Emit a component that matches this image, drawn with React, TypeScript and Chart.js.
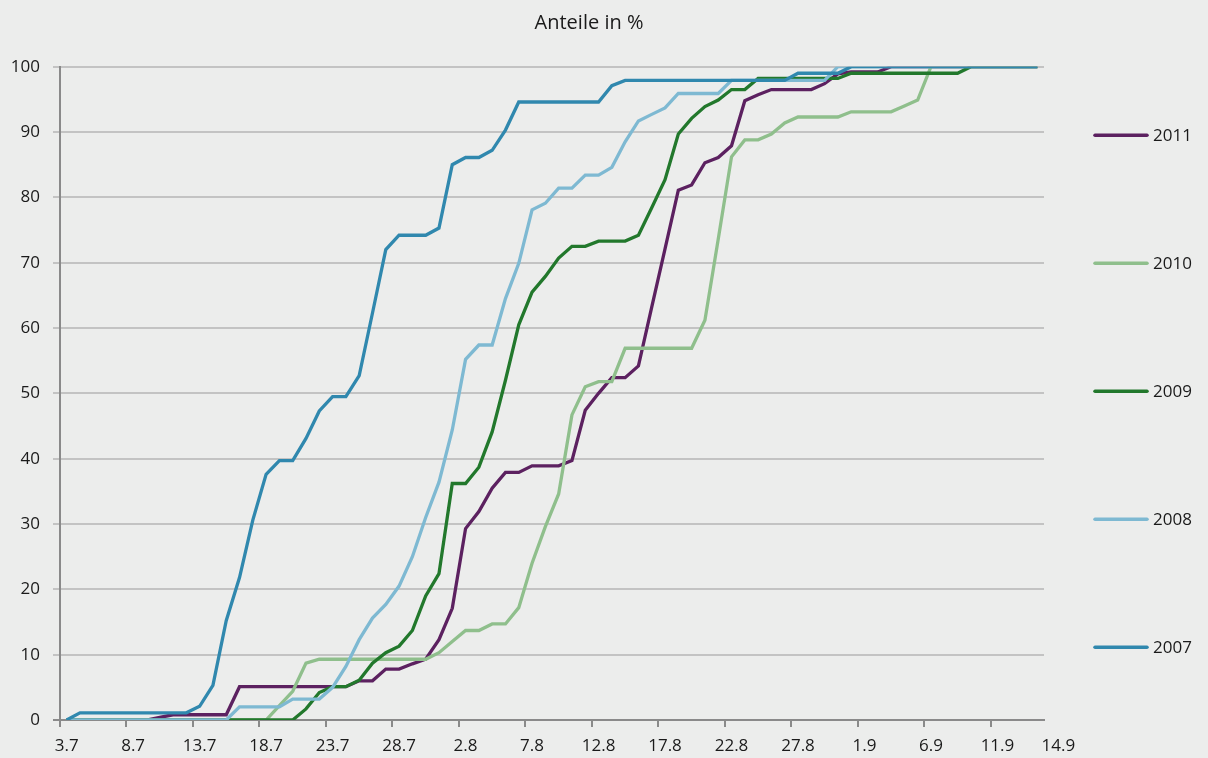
import React, { useEffect, useRef } from 'react';
import { Chart, registerables } from 'chart.js';

Chart.register(...registerables);

const BG = '#ecedec';
const TEXT = '#1a1a1a';
const AXIS = '#8a8a8a';
const GRID = '#c3c3c3';
const FONT = '"Open Sans", "Noto Sans", sans-serif';

const title = 'Anteile in %';

// one category per day, 3.7. to 14.9.
const categories: string[] = [
  '3.7', '4.7', '5.7', '6.7', '7.7', '8.7', '9.7', '10.7', '11.7', '12.7',
  '13.7', '14.7', '15.7', '16.7', '17.7', '18.7', '19.7', '20.7', '21.7', '22.7',
  '23.7', '24.7', '25.7', '26.7', '27.7', '28.7', '29.7', '30.7', '31.7', '1.8',
  '2.8', '3.8', '4.8', '5.8', '6.8', '7.8', '8.8', '9.8', '10.8', '11.8',
  '12.8', '13.8', '14.8', '15.8', '16.8', '17.8', '18.8', '19.8', '20.8', '21.8',
  '22.8', '23.8', '24.8', '25.8', '26.8', '27.8', '28.8', '29.8', '30.8', '31.8',
  '1.9', '2.9', '3.9', '4.9', '5.9', '6.9', '7.9', '8.9', '9.9', '10.9',
  '11.9', '12.9', '13.9', '14.9',
];

const tickLabels: string[] = [
  '3.7', '8.7', '13.7', '18.7', '23.7', '28.7', '2.8', '7.8',
  '12.8', '17.8', '22.8', '27.8', '1.9', '6.9', '11.9', '14.9',
];

const yTicks: number[] = [0, 10, 20, 30, 40, 50, 60, 70, 80, 90, 100];

const s2007: number[] = [
  0, 1.1, 1.1, 1.1, 1.1, 1.1, 1.1, 1.1, 1.1, 1.1,
  2.1, 5.3, 15.2, 21.8, 30.6, 37.6, 39.7, 39.7, 43.1, 47.3,
  49.5, 49.5, 52.7, 62.3, 72.0, 74.2, 74.2, 74.2, 75.3, 85.0,
  86.1, 86.1, 87.2, 90.3, 94.6, 94.6, 94.6, 94.6, 94.6, 94.6,
  94.6, 97.1, 97.9, 97.9, 97.9, 97.9, 97.9, 97.9, 97.9, 97.9,
  97.9, 97.9, 97.9, 97.9, 97.9, 99.0, 99.0, 99.0, 99.0, 100,
  100, 100, 100, 100, 100, 100, 100, 100, 100, 100,
  100, 100, 100, 100,
];

const s2008: number[] = [
  0, 0, 0, 0, 0, 0, 0, 0, 0, 0,
  0, 0, 0, 2.0, 2.0, 2.0, 2.0, 3.2, 3.2, 3.2,
  5.0, 8.2, 12.3, 15.6, 17.7, 20.5, 25.0, 31.0, 36.4, 44.4,
  55.2, 57.4, 57.4, 64.5, 69.9, 78.1, 79.1, 81.4, 81.4, 83.4,
  83.4, 84.6, 88.5, 91.7, 92.7, 93.7, 95.9, 95.9, 95.9, 95.9,
  97.9, 97.9, 97.9, 97.9, 97.9, 97.9, 97.9, 97.9, 100, 100,
  100, 100, 100, 100, 100, 100, 100, 100, 100, 100,
  100, 100, 100, 100,
];

const s2009: number[] = [
  0, 0, 0, 0, 0, 0, 0, 0, 0, 0,
  0, 0, 0, 0, 0, 0, 0, 0, 1.7, 4.2,
  5.1, 5.1, 6.1, 8.7, 10.3, 11.3, 13.7, 19.0, 22.4, 36.2,
  36.2, 38.7, 44.1, 52.0, 60.5, 65.5, 67.9, 70.7, 72.5, 72.5,
  73.3, 73.3, 73.3, 74.2, 78.4, 82.7, 89.7, 92.1, 93.9, 94.9,
  96.5, 96.5, 98.2, 98.2, 98.2, 98.2, 98.2, 98.2, 98.2, 99.0,
  99.0, 99.0, 99.0, 99.0, 99.0, 99.0, 99.0, 99.0, 100, 100,
  100, 100, 100, 100,
];

const s2010: number[] = [
  0, 0, 0, 0, 0, 0, 0, 0, 0, 0,
  0, 0, 0, 0, 0, 0, 2.2, 4.4, 8.7, 9.3,
  9.3, 9.3, 9.3, 9.3, 9.3, 9.3, 9.3, 9.3, 10.3, 12.0,
  13.7, 13.7, 14.7, 14.7, 17.2, 24.0, 29.6, 34.6, 46.7, 51.0,
  51.8, 51.8, 56.9, 56.9, 56.9, 56.9, 56.9, 56.9, 61.2, 73.6,
  86.2, 88.8, 88.8, 89.7, 91.4, 92.3, 92.3, 92.3, 92.3, 93.1,
  93.1, 93.1, 93.1, 94.0, 94.9, 100, 100, 100, 100, 100,
  100, 100, 100, 100,
];

const s2011: number[] = [
  0, 0, 0, 0, 0, 0, 0, 0.4, 0.8, 0.8,
  0.8, 0.8, 0.8, 5.1, 5.1, 5.1, 5.1, 5.1, 5.1, 5.1,
  5.1, 5.1, 6.0, 6.0, 7.8, 7.8, 8.6, 9.3, 12.3, 17.1,
  29.3, 31.9, 35.5, 37.9, 37.9, 38.9, 38.9, 38.9, 39.7, 47.4,
  50.0, 52.4, 52.4, 54.2, 63.2, 72.1, 81.1, 81.9, 85.3, 86.1,
  87.9, 94.8, 95.7, 96.5, 96.5, 96.5, 96.5, 97.4, 98.9, 99.2,
  99.2, 99.2, 100, 100, 100, 100, 100, 100, 100, 100,
  100, 100, 100, 100,
];

const seriesNames: string[] = ['2007', '2008', '2009', '2010', '2011'];
const seriesColors: string[] = ['#3088ae', '#7eb9d2', '#22782c', '#8fbf8c', '#5c2160'];
const seriesData: number[][] = [s2007, s2008, s2009, s2010, s2011];
// legend order from top to bottom
const legendOrder: string[] = ['2011', '2010', '2009', '2008', '2007'];

export default function App() {
  const ref = useRef<HTMLCanvasElement | null>(null);

  useEffect(() => {
    document.body.style.margin = '0';
    const canvas = ref.current;
    if (!canvas) return;

    const lastIdx = categories.length - 1;

    const sidePlugin = {
      id: 'sideLegend',
      beforeDraw(chart: any) {
        const c = chart.ctx;
        c.save();
        c.fillStyle = BG;
        c.fillRect(0, 0, chart.width, chart.height);
        c.restore();
      },
      afterDraw(chart: any) {
        const { ctx, chartArea } = chart;
        const mid = (chartArea.top + chartArea.bottom) / 2 - 2;
        const x0 = chartArea.right + 51;
        ctx.save();
        legendOrder.forEach((name, k) => {
          const di = seriesNames.indexOf(name);
          const y = mid + (k - 2) * 128;
          ctx.strokeStyle = seriesColors[di];
          ctx.lineWidth = 3.5;
          ctx.lineCap = 'round';
          ctx.beginPath();
          ctx.moveTo(x0, y);
          ctx.lineTo(x0 + 52, y);
          ctx.stroke();
          ctx.fillStyle = TEXT;
          ctx.font = `17px ${FONT}`;
          ctx.textAlign = 'left';
          ctx.textBaseline = 'middle';
          ctx.fillText(name, x0 + 58, y + 1);
        });
        // last category label, set off to the right as in the original
        const xs = chart.scales.x;
        ctx.fillStyle = TEXT;
        ctx.font = `17px ${FONT}`;
        ctx.textAlign = 'center';
        ctx.textBaseline = 'middle';
        ctx.fillText(tickLabels[tickLabels.length - 1], xs.getPixelForValue(lastIdx) + 21, xs.top + 7 + 9 + 10.2);
        ctx.restore();
      },
    };

    const chart = new Chart(canvas, {
      type: 'line',
      data: {
        labels: categories,
        datasets: seriesNames.map((n, i) => ({
          label: n,
          data: seriesData[i],
          borderColor: seriesColors[i],
          backgroundColor: seriesColors[i],
          borderWidth: 3.3,
          pointRadius: 0,
          tension: 0,
          fill: false,
          yAxisID: 'y',
        })),
      },
      options: {
        responsive: false,
        animation: false,
        devicePixelRatio: 1,
        layout: { padding: { left: 0, top: 0, bottom: 0, right: 30 } },
        plugins: {
          legend: { display: false },
          tooltip: { enabled: false },
          title: {
            display: true,
            text: title,
            color: TEXT,
            font: { family: FONT, size: 20, weight: 'normal' },
            padding: { top: 11, bottom: 31.7 },
          },
        },
        scales: {
          x: {
            type: 'category',
            offset: true,
            afterFit: (s: any) => { s.height = 38; },
            grid: {
              offset: true,
              drawOnChartArea: false,
              drawTicks: true,
              tickLength: 7,
              lineWidth: 2,
              tickColor: (c: any) =>
                typeof c.index === 'number' && c.index % 5 === 0 && c.index < lastIdx ? AXIS : 'rgba(0,0,0,0)',
              color: 'rgba(0,0,0,0)',
            },
            border: { display: true, color: AXIS, width: 2 },
            ticks: {
              autoSkip: false,
              maxRotation: 0,
              minRotation: 0,
              padding: 9,
              color: TEXT,
              font: { family: FONT, size: 17 },
              callback: (_v: any, i: number) => {
                const lab = categories[i];
                return i !== lastIdx && tickLabels.includes(lab) ? lab : '';
              },
            },
          },
          y: {
            type: 'linear',
            min: yTicks[0],
            max: yTicks[yTicks.length - 1],
            afterFit: (s: any) => { s.width = 60; },
            afterBuildTicks: (s: any) => { s.ticks = yTicks.map((v) => ({ value: v })); },
            grid: {
              color: (c: any) => (c.index === 0 ? 'rgba(0,0,0,0)' : GRID),
              tickColor: (c: any) => (c.index === 0 ? AXIS : GRID),
              lineWidth: 2,
              tickLength: 7,
              drawTicks: true,
            },
            border: { display: true, color: AXIS, width: 2 },
            ticks: {
              padding: 13,
              color: TEXT,
              font: { family: FONT, size: 17 },
            },
          },
          yr: {
            type: 'linear',
            position: 'right',
            display: true,
            afterFit: (s: any) => { s.width = 134; },
            grid: { display: false, drawTicks: false },
            border: { display: false },
            ticks: { display: false },
          },
        },
      },
      plugins: [sidePlugin],
    } as any);

    return () => chart.destroy();
  }, []);

  return (
    <div style={{ width: 1208, height: 758, background: BG }}>
      <canvas ref={ref} width={1208} height={758} style={{ display: 'block', width: 1208, height: 758 }} />
    </div>
  );
}
